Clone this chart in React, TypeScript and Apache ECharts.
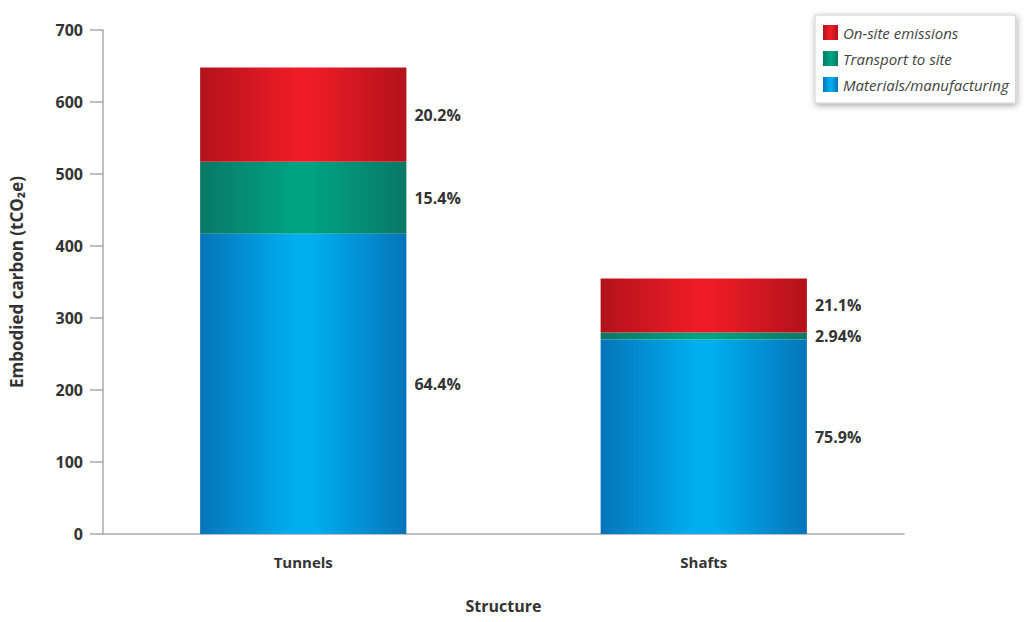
import React, { useEffect, useRef } from "react";
import * as echarts from "echarts";

const categories = ["Tunnels", "Shafts"];
const materials = [417, 270];
const transport = [100, 10];
const onsite = [131, 75];
const materialsPct = ["64.4%", "75.9%"];
const transportPct = ["15.4%", "2.94%"];
const onsitePct = ["20.2%", "21.1%"];
const yTicks = { min: 0, max: 700, interval: 100 };

const FONT = "'Open Sans', 'Noto Sans', sans-serif";

function grad(edge: string, mid: string) {
  return new echarts.graphic.LinearGradient(0, 0, 1, 0, [
    { offset: 0, color: edge },
    { offset: 0.45, color: mid },
    { offset: 0.55, color: mid },
    { offset: 1, color: edge },
  ]);
}

export default function App() {
  const ref = useRef<HTMLDivElement>(null);
  useEffect(() => {
    if (!ref.current) return;
    const chart = echarts.init(ref.current, undefined, { renderer: "svg" });
    const labelStyle = (pcts: string[]) => ({
      show: true,
      position: "right" as const,
      distance: 8,
      fontFamily: FONT,
      fontWeight: "bold" as const,
      fontSize: 16,
      color: "#333",
      formatter: (p: any) => pcts[p.dataIndex],
    });
    chart.setOption({
      animation: false,
      backgroundColor: "#fff",
      textStyle: { fontFamily: FONT },
      grid: { left: 103, right: 120, top: 30, bottom: 88 },
      legend: {
        orient: "vertical",
        left: 815,
        top: 15,
        padding: [10, 7, 11, 8],
        icon: "rect",
        itemWidth: 15,
        itemHeight: 15,
        itemGap: 11,
        backgroundColor: "#fff",
        borderColor: "#d0d0d0",
        borderWidth: 1,
        shadowBlur: 6,
        shadowColor: "rgba(0,0,0,0.35)",
        shadowOffsetX: 1,
        shadowOffsetY: 2,
        data: ["On-site emissions", "Transport to site", "Materials/manufacturing"],
        textStyle: {
          fontFamily: FONT,
          fontStyle: "italic",
          fontSize: 15,
          color: "#444",
        },
      },
      xAxis: {
        type: "category",
        data: categories,
        name: "Structure",
        nameLocation: "middle",
        nameGap: 64,
        nameTextStyle: { fontFamily: FONT, fontWeight: "bold", fontSize: 16, color: "#333" },
        axisLine: { lineStyle: { color: "#aaa", width: 1.5 } },
        axisTick: { show: false },
        axisLabel: { margin: 20, fontFamily: FONT, fontWeight: "bold", fontSize: 15, color: "#333" },
      },
      yAxis: {
        type: "value",
        min: yTicks.min,
        max: yTicks.max,
        interval: yTicks.interval,
        name: "Embodied carbon (tCO₂e)",
        nameLocation: "middle",
        nameGap: 78,
        nameTextStyle: { fontFamily: FONT, fontWeight: "bold", fontSize: 17, color: "#333" },
        axisLine: { show: true, lineStyle: { color: "#aaa", width: 1.5 } },
        axisTick: { show: true, length: 13, lineStyle: { color: "#aaa", width: 1.5 } },
        splitLine: { show: false },
        axisLabel: { margin: 20, fontFamily: FONT, fontWeight: "bold", fontSize: 16, color: "#333" },
      },
      series: [
        {
          name: "Materials/manufacturing",
          type: "bar",
          stack: "total",
          barWidth: "51.5%",
          data: materials,
          itemStyle: { color: grad("#0674ba", "#00aeef") },
          label: labelStyle(materialsPct),
        },
        {
          name: "Transport to site",
          type: "bar",
          stack: "total",
          data: transport,
          itemStyle: { color: grad("#0a7866", "#00a381") },
          label: labelStyle(transportPct),
        },
        {
          name: "On-site emissions",
          type: "bar",
          stack: "total",
          data: onsite,
          itemStyle: { color: grad("#b3121b", "#ed1c26") },
          label: labelStyle(onsitePct),
        },
      ],
    });
    return () => chart.dispose();
  }, []);
  return <div ref={ref} style={{ width: 1024, height: 622, position: "absolute", left: 0, top: 0 }} />;
}
